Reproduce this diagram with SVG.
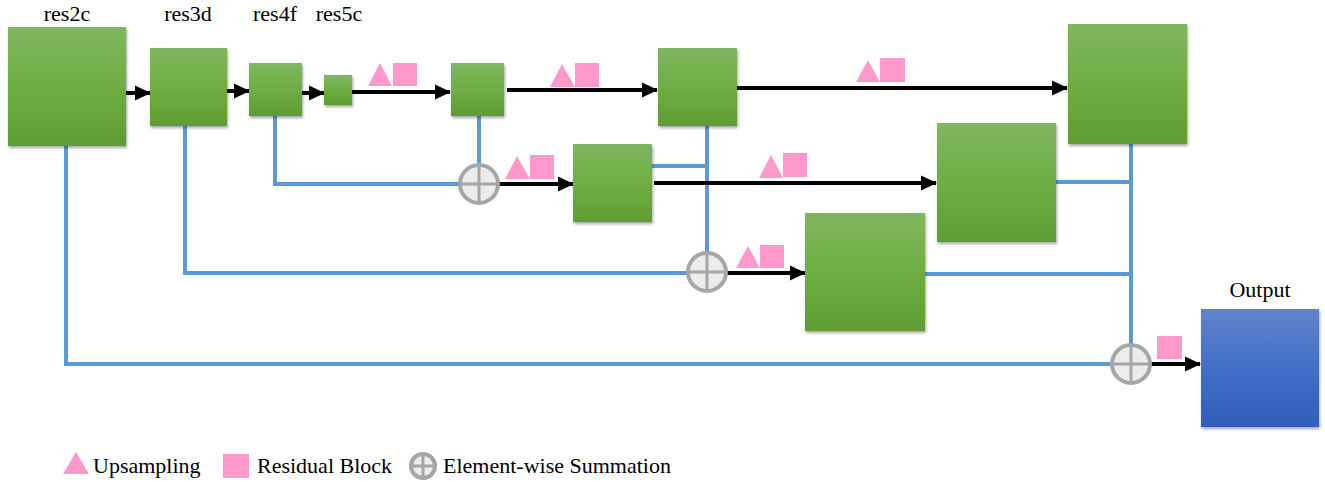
<svg xmlns="http://www.w3.org/2000/svg" width="1325" height="482" viewBox="0 0 1325 482">
<style>
.lbl{font-family:"Liberation Serif","Times New Roman",serif;font-size:22px;fill:#000}
.g{fill:url(#gg);filter:url(#sh)}
.b{fill:url(#bg);filter:url(#sh)}
.blue{fill:none;stroke:#5b9bd5;stroke-width:4}
.blk{fill:none;stroke:#000;stroke-width:4;marker-end:url(#ah)}
.pk{fill:#ff99cc}
.sum{fill:#ececec;stroke:#a6a6a6;stroke-width:4}
.cr{stroke:#a6a6a6;stroke-width:3}
</style>
<defs>
<linearGradient id="gg" x1="0" y1="0" x2="0" y2="1">
<stop offset="0" stop-color="#80b662"/>
<stop offset="0.5" stop-color="#6eae42"/>
<stop offset="1" stop-color="#5f9d33"/>
</linearGradient>
<linearGradient id="bg" x1="0" y1="0" x2="0" y2="1">
<stop offset="0" stop-color="#6283cc"/>
<stop offset="0.5" stop-color="#416fc5"/>
<stop offset="1" stop-color="#2f5fb8"/>
</linearGradient>
<filter id="sh" x="-10%" y="-10%" width="125%" height="125%">
<feDropShadow dx="1" dy="2" stdDeviation="1.5" flood-color="#000" flood-opacity="0.35"/>
</filter>
<marker id="ah" markerUnits="userSpaceOnUse" markerWidth="17" markerHeight="17" refX="15" refY="8.5" orient="auto">
<path d="M0,1 L16,8.5 L0,16 Z" fill="#000"/>
</marker>
</defs>

<g id="labels">
<text class="lbl" x="67" y="21" text-anchor="middle">res2c</text>
<text class="lbl" x="188" y="21" text-anchor="middle">res3d</text>
<text class="lbl" x="275" y="21" text-anchor="middle">res4f</text>
<text class="lbl" x="339" y="21" text-anchor="middle">res5c</text>
<text class="lbl" x="1260" y="297" text-anchor="middle">Output</text>
</g>

<g id="connectors">
<path class="blue" d="M66 146 V364 H1111"/>
<path class="blue" d="M185 126 V273 H687"/>
<path class="blue" d="M275 116 V184 H459"/>
<path class="blue" d="M479 116 V164"/>
<path class="blue" d="M707 126 V252"/>
<path class="blue" d="M652 166 H707"/>
<path class="blue" d="M1131 144 V344"/>
<path class="blue" d="M1056 182 H1131"/>
<path class="blue" d="M925 274 H1131"/>
<path class="blk" d="M126 93 H150"/>
<path class="blk" d="M227 91 H249"/>
<path class="blk" d="M302 93 H324"/>
<path class="blk" d="M352 92 H450"/>
<path class="blk" d="M507 90 H657"/>
<path class="blk" d="M737 88 H1067"/>
<path class="blk" d="M499 184 H573"/>
<path class="blk" d="M654 183 H936"/>
<path class="blk" d="M727 273 H805"/>
<path class="blk" d="M1151 364 H1200"/>
</g>

<g id="ops">
<polygon class="pk" points="368,86 380,63 392,86"/><rect class="pk" x="393" y="63" width="24" height="23"/>
<polygon class="pk" points="550,87 562,64 575,87"/><rect class="pk" x="575" y="63" width="24" height="24"/>
<polygon class="pk" points="856,82 868,60 880,82"/><rect class="pk" x="880" y="58" width="25" height="24"/>
<polygon class="pk" points="505,179 517,156 530,179"/><rect class="pk" x="530" y="155" width="24" height="24"/>
<polygon class="pk" points="759,178 771,155 783,178"/><rect class="pk" x="783" y="153" width="24" height="24"/>
<polygon class="pk" points="736,268 748,246 760,268"/><rect class="pk" x="760" y="245" width="24" height="23"/>
<rect class="pk" x="1157" y="336" width="25" height="23"/>
</g>

<g id="res2c"><rect class="g" x="8" y="27" width="118" height="119"/></g>
<g id="res3d"><rect class="g" x="150" y="48" width="77" height="78"/></g>
<g id="res4f"><rect class="g" x="249" y="63" width="53" height="53"/></g>
<g id="res5c"><rect class="g" x="324" y="75" width="28" height="30"/></g>
<g id="up1"><rect class="g" x="451" y="63" width="53" height="53"/></g>
<g id="up2"><rect class="g" x="658" y="48" width="79" height="78"/></g>
<g id="up3"><rect class="g" x="1068" y="24" width="119" height="120"/></g>
<g id="mid1"><rect class="g" x="573" y="144" width="79" height="78"/></g>
<g id="mid2"><rect class="g" x="937" y="123" width="119" height="119"/></g>
<g id="low1"><rect class="g" x="805" y="213" width="120" height="118"/></g>
<g id="output"><rect class="b" x="1201" y="309" width="118" height="118"/></g>

<g id="sum1"><circle class="sum" cx="479" cy="184" r="19"/><path class="cr" d="M479 165 V203 M460 184 H498"/></g>
<g id="sum2"><circle class="sum" cx="707" cy="272" r="19"/><path class="cr" d="M707 253 V291 M688 272 H726"/></g>
<g id="sum3"><circle class="sum" cx="1131" cy="364" r="19"/><path class="cr" d="M1131 345 V383 M1112 364 H1150"/></g>

<g id="legend">
<polygon class="pk" points="63,474 76,452 89,474"/>
<text class="lbl" x="93" y="473">Upsampling</text>
<rect class="pk" x="223" y="454" width="26" height="24"/>
<text class="lbl" x="257" y="473">Residual Block</text>
<circle class="sum" cx="423" cy="466" r="12" stroke-width="3"/>
<path class="cr" d="M423 454 V478 M411 466 H435"/>
<text class="lbl" x="443" y="473">Element-wise Summation</text>
</g>
</svg>
